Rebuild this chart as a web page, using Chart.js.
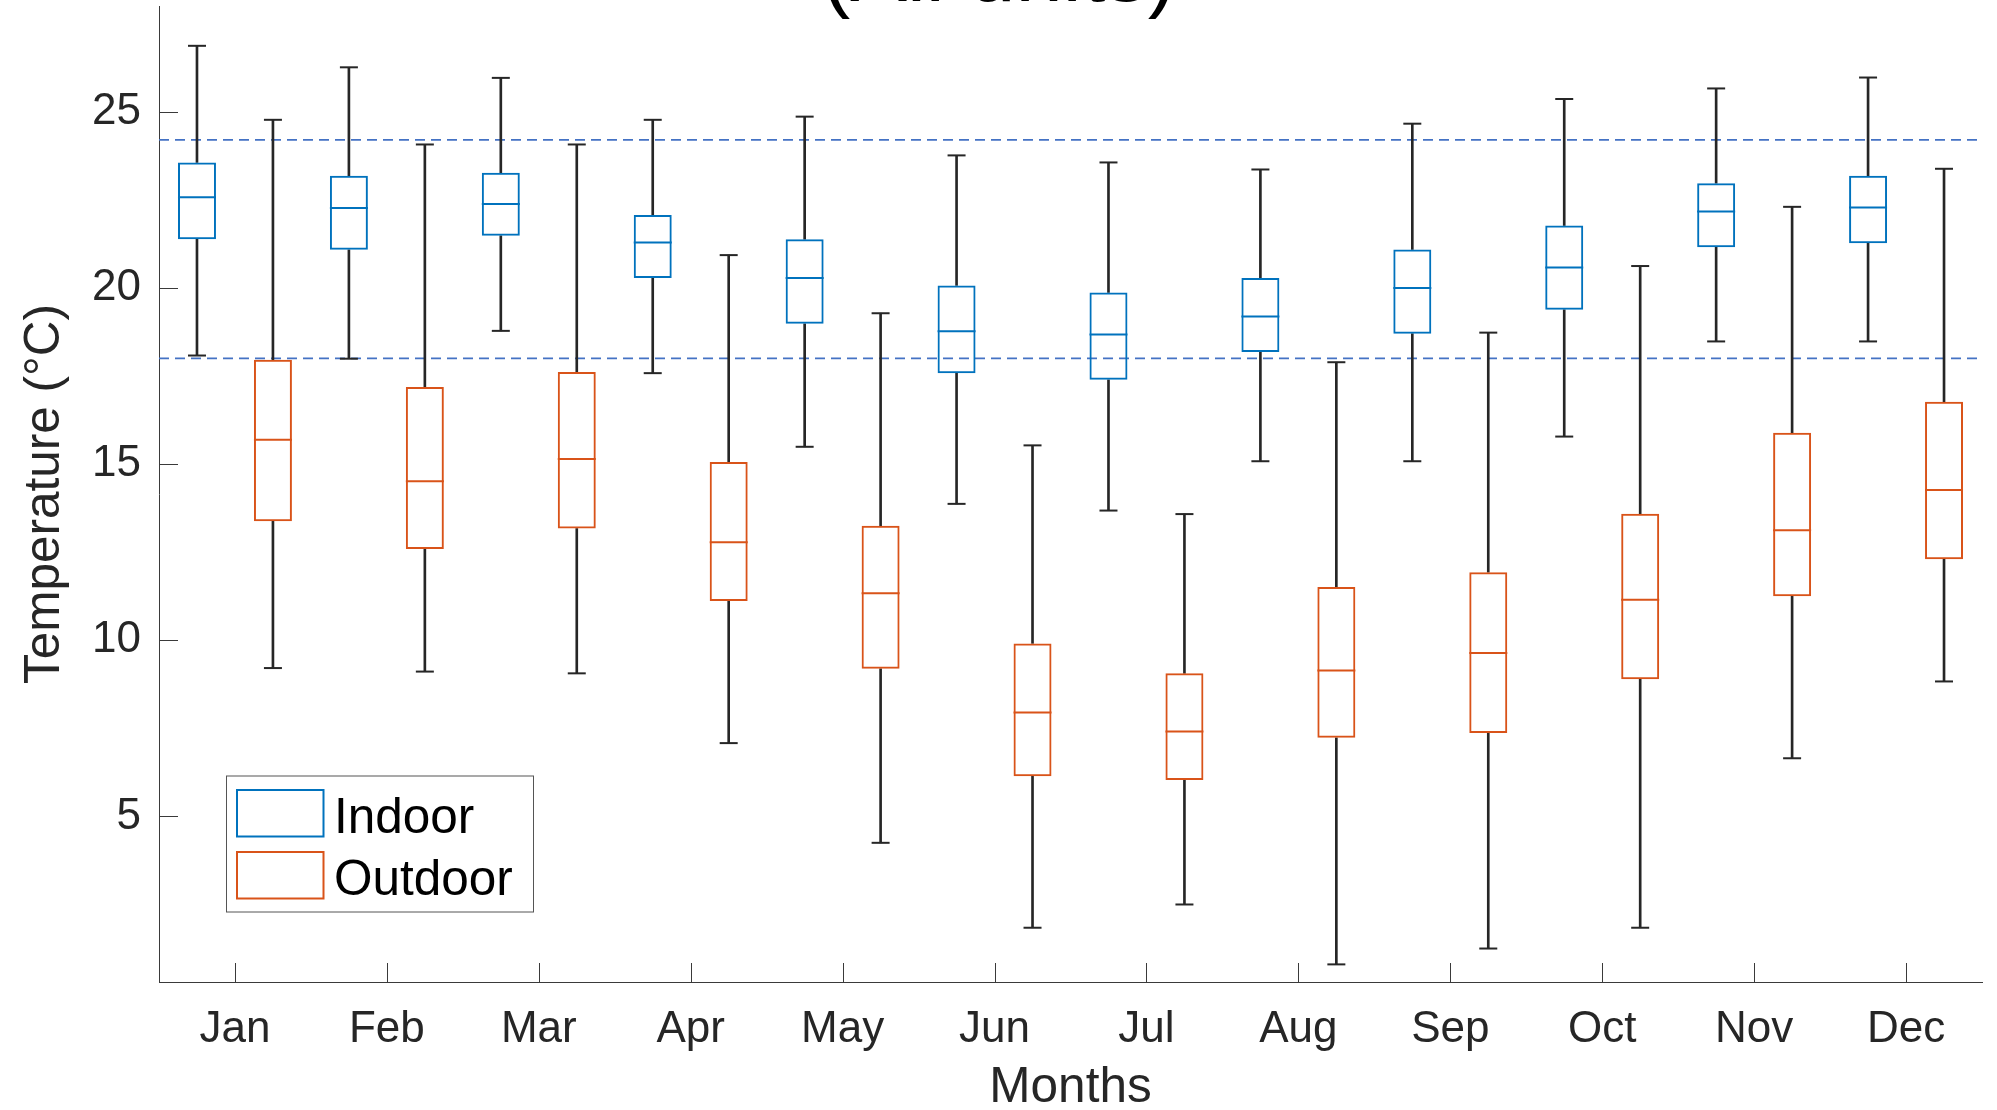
<!DOCTYPE html>
<html><head><meta charset="utf-8">
<script src="https://cdn.jsdelivr.net/npm/chart.js@4.4.1/dist/chart.umd.min.js"></script>
<style>html,body{margin:0;padding:0;background:#fff;overflow:hidden}canvas{display:block}</style>
</head><body>
<canvas id="c" width="1997" height="1110"></canvas>
<script>
// ---------- data ----------
const titleText = '(All units)';
const months = ['Jan','Feb','Mar','Apr','May','Jun','Jul','Aug','Sep','Oct','Nov','Dec'];
const monthTickPositions = [1.5,3.5,5.5,7.5,9.5,11.5,13.5,15.5,17.5,19.5,21.5,23.5];
const indoorPositions  = [1,3,5,7,9,11,13,15,17,19,21,23];
const outdoorPositions = [2,4,6,8,10,12,14,16,18,20,22,24];
const yTicks = [5,10,15,20,25];
const yRange = [0.3, 28];
const xRange = [0.5, 24.5];
const comfortLow = 18;
const comfortHigh = 24.2;

const indoorMax    = [26.87,26.26,25.96,24.77,24.86,23.76,23.56,23.36,24.66,25.36,25.66,25.97];
const indoorQ3     = [23.56,23.18,23.27,22.07,21.38,20.07,19.87,20.28,21.09,21.77,22.97,23.18];
const indoorMedian = [22.57,22.27,22.38,21.29,20.28,18.77,18.68,19.19,20.00,20.58,22.17,22.28];
const indoorQ1     = [21.38,21.08,21.48,20.28,18.98,17.58,17.39,18.18,18.70,19.38,21.15,21.27];
const indoorMin    = [18.08,17.99,18.78,17.58,15.49,13.87,13.68,15.08,15.08,15.78,18.48,18.48];

const outdoorMax    = [24.77,24.07,24.07,20.93,19.28,15.53,13.58,17.89,18.73,20.62,22.30,23.38];
const outdoorQ3     = [17.96,17.19,17.61,15.06,13.25,9.91,9.06,11.51,11.93,13.59,15.89,16.77];
const outdoorMedian = [15.69,14.51,15.14,12.78,11.33,7.95,7.41,9.14,9.64,11.15,13.12,14.26];
const outdoorQ1     = [13.38,12.59,13.17,11.11,9.19,6.14,6.03,7.23,7.37,8.89,11.25,12.30];
const outdoorMin    = [9.21,9.11,9.06,7.08,4.25,1.84,2.50,0.80,1.25,1.84,6.65,8.83];

// ---------- styles ----------
const FONT = "'Liberation Sans', Arial, Helvetica, sans-serif";
const BLUE = '#0072BD', ORANGE = '#D95319', WHISK = '#262626', AXIS = '#3a3a3a', DASH = '#4472C4';

const pts = (xs, ys) => xs.map((x, i) => ({x, y: ys[i]}));
const rng = (xs, a, b) => xs.map((x, i) => ({x, y: [a[i], b[i]]}));

function whiskers(label, pos, lo, hi) {
  return {type: 'bar', label, data: rng(pos, lo, hi), backgroundColor: WHISK, borderWidth: 0,
          barThickness: 2, grouped: false, order: 5};
}
function boxes(label, pos, q1, q3, color) {
  return {type: 'bar', label, data: rng(pos, q1, q3), backgroundColor: 'rgba(0,0,0,0)',
          borderColor: color, borderWidth: 2, borderSkipped: false, grouped: false,
          categoryPercentage: 1, barPercentage: 0.5, order: 2};
}
function marks(label, pos, vals, color, r) {
  return {type: 'line', label, data: pts(pos, vals), showLine: false, pointStyle: 'line',
          pointRadius: r, pointHoverRadius: r, pointBorderWidth: 2, pointBorderColor: color,
          borderColor: color, order: 1};
}
function refLine(label, v) {
  return {type: 'line', label, data: [{x: xRange[0], y: v}, {x: xRange[1], y: v}],
          borderColor: DASH, borderWidth: 1.6, borderDash: [10, 6], pointRadius: 0, order: 10};
}

const datasets = [
  refLine('low', comfortLow), refLine('high', comfortHigh),
  whiskers('inUp', indoorPositions, indoorQ3, indoorMax),
  whiskers('inLo', indoorPositions, indoorMin, indoorQ1),
  whiskers('outUp', outdoorPositions, outdoorQ3, outdoorMax),
  whiskers('outLo', outdoorPositions, outdoorMin, outdoorQ1),
  boxes('Indoor', indoorPositions, indoorQ1, indoorQ3, BLUE),
  boxes('Outdoor', outdoorPositions, outdoorQ1, outdoorQ3, ORANGE),
  marks('inMed', indoorPositions, indoorMedian, BLUE, 19),
  marks('outMed', outdoorPositions, outdoorMedian, ORANGE, 19),
  marks('inCapHi', indoorPositions, indoorMax, WHISK, 9),
  marks('inCapLo', indoorPositions, indoorMin, WHISK, 9),
  marks('outCapHi', outdoorPositions, outdoorMax, WHISK, 9),
  marks('outCapLo', outdoorPositions, outdoorMin, WHISK, 9)
];

const decor = {
  id: 'decor',
  afterDraw(chart) {
    const {ctx, chartArea: a, scales: {x, y}} = chart;
    ctx.save();
    // inward tick marks
    ctx.strokeStyle = AXIS; ctx.lineWidth = 1;
    ctx.beginPath();
    y.ticks.forEach(t => { const py = Math.round(y.getPixelForValue(t.value)) + 0.5; ctx.moveTo(a.left, py); ctx.lineTo(a.left + 19, py); });
    x.ticks.forEach(t => { const px = Math.round(x.getPixelForValue(t.value)) + 0.5; ctx.moveTo(px, a.bottom); ctx.lineTo(px, a.bottom - 19); });
    ctx.stroke();
    // legend
    const lx = a.left + 67.5, lw = 307, lh = 136, ly = a.bottom - 70 - lh;
    ctx.fillStyle = '#fff'; ctx.fillRect(lx, ly, lw, lh);
    ctx.strokeStyle = '#555'; ctx.lineWidth = 1; ctx.strokeRect(lx, ly, lw, lh);
    const items = [['Indoor', BLUE], ['Outdoor', ORANGE]];
    ctx.font = '49.5px ' + FONT; ctx.textAlign = 'left'; ctx.textBaseline = 'alphabetic';
    items.forEach(([t, c], i) => {
      const sy = ly + 14 + i * 62;
      ctx.strokeStyle = c; ctx.lineWidth = 2;
      ctx.strokeRect(lx + 10.5, sy, 86.5, 46.5);
      ctx.fillStyle = '#000';
      ctx.fillText(t, lx + 107.5, sy + 43);
    });
    // title (cut off at top as in original)
    ctx.font = '85px ' + FONT; ctx.textAlign = 'center'; ctx.textBaseline = 'alphabetic'; ctx.fillStyle = '#000';
    ctx.fillText(titleText, 999, 1);
    ctx.restore();
  }
};

Chart.defaults.font.family = FONT;
new Chart(document.getElementById('c'), {
  type: 'bar',
  data: {datasets},
  options: {
    responsive: false, animation: false, devicePixelRatio: 1, events: [],
    layout: {autoPadding: false, padding: {top: 6, right: 15, left: 0, bottom: 0}},
    plugins: {legend: {display: false}, tooltip: {enabled: false}, title: {display: false}},
    scales: {
      x: {
        type: 'linear', min: xRange[0], max: xRange[1], offset: false,
        grid: {display: false, drawTicks: false, tickLength: 0, offset: false},
        border: {display: true, color: AXIS, width: 1},
        afterBuildTicks: s => { s.ticks = monthTickPositions.map(v => ({value: v})); },
        afterFit: s => { s.height = 128; s.paddingLeft = 0; s.paddingRight = 0; s.paddingTop = 0; s.paddingBottom = 0; },
        ticks: {autoSkip: false, maxRotation: 0, padding: 21, color: '#262626',
                font: {size: 44}, callback: (v, i) => months[i]},
        title: {display: true, text: 'Months', color: '#262626', font: {size: 49.5, lineHeight: 1},
                padding: {top: 0, bottom: -3}}
      },
      y: {
        type: 'linear', min: yRange[0], max: yRange[1], beginAtZero: false,
        grid: {display: false, drawTicks: false, tickLength: 0},
        border: {display: true, color: AXIS, width: 1},
        afterBuildTicks: s => { s.ticks = yTicks.map(v => ({value: v})); },
        afterFit: s => { s.width = 159; s.paddingLeft = 0; s.paddingRight = 0; s.paddingTop = 0; s.paddingBottom = 0; },
        ticks: {padding: 18, color: '#262626', font: {size: 44}},
        title: {display: true, text: 'Temperature (°C)', color: '#262626', font: {size: 49.5, lineHeight: 1},
                padding: {top: 21, bottom: 0}}
      }
    }
  },
  plugins: [decor]
});
</script>
</body></html>
